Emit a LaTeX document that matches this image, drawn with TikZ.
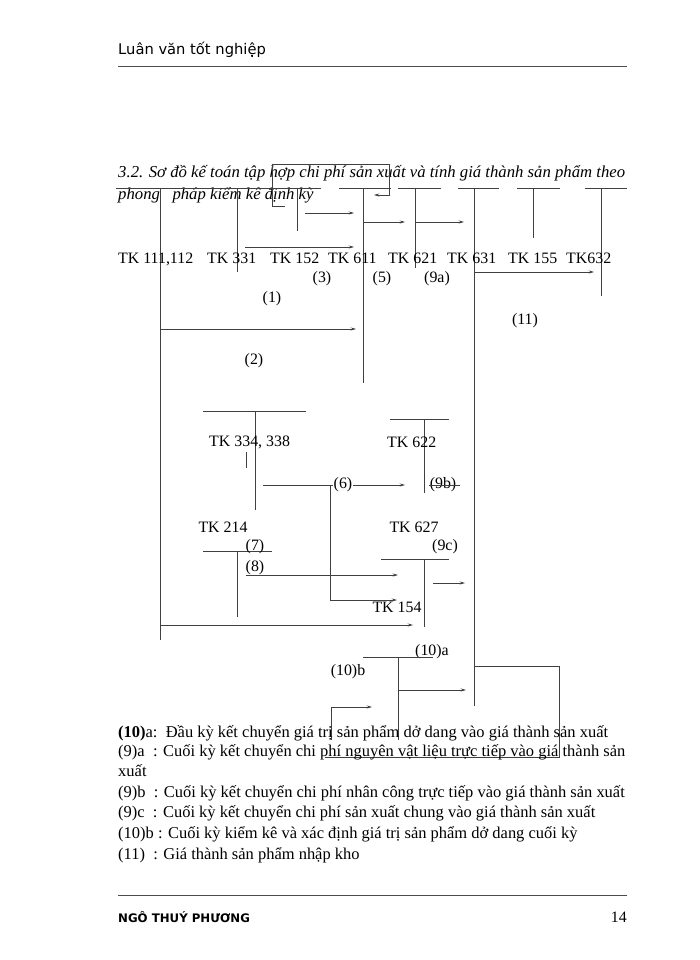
\documentclass[tikz,border=0pt]{standalone}
\usepackage{fontspec}
\setmainfont{Liberation Serif}
\newfontfamily\hdrfont{DejaVu Sans}
\usetikzlibrary{arrows.meta}
\begin{document}
\begin{tikzpicture}[x=0.85pt,y=-0.85pt,
  ln/.style={draw=black!75,line width=0.6pt},
  rule/.style={draw=black!70,line width=0.5pt},
  arr/.style={ln,-{Stealth[length=4.5pt,width=2.6pt]}},
  lbl/.style={inner sep=0pt,font=\fontsize{13.5}{15}\selectfont},
  lgd/.style={inner sep=0pt,anchor=west,font=\fontsize{14}{16}\selectfont}]
\useasboundingbox[fill=white] (0,0) rectangle (700,960);

% header / footer
\node[inner sep=0pt,anchor=west,font=\hdrfont\fontsize{12.5}{14}\selectfont] (hdr) at (118,50) {Luân văn tốt nghiệp};
\coordinate (hl1) at (118,66); \coordinate (hl2) at (627,66);
\draw[rule] (hl1) -- (hl2);
\coordinate (fl1) at (118,895); \coordinate (fl2) at (627,895);
\draw[rule] (fl1) -- (fl2);
\node[inner sep=0pt,anchor=west,font=\hdrfont\bfseries\fontsize{10}{12}\selectfont] (ftr) at (118,917) {NGÔ THUÝ PHƯƠNG};
\node[lbl,anchor=east] (pg) at (627,917) {14};

% title
\node[inner sep=0pt,anchor=west,font=\itshape\fontsize{14.2}{16}\selectfont] (t1) at (118,173) {3.2. Sơ đồ kế toán tập hợp chi phí sản xuất và tính giá thành sản phẩm theo};
\node[inner sep=0pt,anchor=west,font=\itshape\fontsize{14.2}{16}\selectfont] (t2) at (118,195) {phong\ \ \ pháp kiểm kê định kỳ};

% top row of T-accounts
\coordinate (hA1) at (116,188); \coordinate (hA2) at (321,188);
\draw[ln] (hA1) -- (hA2);
\coordinate (h611a) at (339,188); \coordinate (h611b) at (391,188);
\draw[ln] (h611a) -- (h611b);
\coordinate (h621a) at (398,188); \coordinate (h621b) at (441,188);
\draw[ln] (h621a) -- (h621b);
\coordinate (h631a) at (458,188); \coordinate (h631b) at (499,188);
\draw[ln] (h631a) -- (h631b);
\coordinate (h155a) at (517,188); \coordinate (h155b) at (560,188);
\draw[ln] (h155a) -- (h155b);
\coordinate (h632a) at (585,188); \coordinate (h632b) at (627,188);
\draw[ln] (h632a) -- (h632b);

\coordinate (v111t) at (160,188); \coordinate (v111b) at (160,640);
\coordinate (v331t) at (237,188); \coordinate (v331b) at (237,272);
\coordinate (v152t) at (297,188); \coordinate (v152b) at (297,231);
\coordinate (v611t) at (363,188); \coordinate (v611b) at (363,383);
\coordinate (v621t) at (415,188); \coordinate (v621b) at (415,268);
\coordinate (v631t) at (474,188); \coordinate (v631b) at (474,706);
\coordinate (v155t) at (533,188); \coordinate (v155b) at (533,238);
\coordinate (v632t) at (601,188); \coordinate (v632b) at (601,296);
\foreach \a in {111,331,152,611,621,631,155,632} \draw[ln] (v\a t) -- (v\a b);

% loop (3)
\coordinate (lp1) at (285,206); \coordinate (lp2) at (272,206);
\coordinate (lp3) at (272,164); \coordinate (lp4) at (389,164);
\coordinate (lp5) at (389,195); \coordinate (lp6) at (374,195);
\draw[arr] (lp1) -- (lp2) -- (lp3) -- (lp4) -- (lp5) -- (lp6);

% arrows top
\coordinate (a152s) at (305,213); \coordinate (a152e) at (354,213);
\draw[arr] (a152s) -- (a152e);
\coordinate (a611s) at (363,222); \coordinate (a611e) at (405,222);
\draw[arr] (a611s) -- (a611e);
\coordinate (a621s) at (415,222); \coordinate (a621e) at (464,222);
\draw[arr] (a621s) -- (a621e);
\coordinate (a331s) at (245,247); \coordinate (a331e) at (354,247);
\draw[arr] (a331s) -- (a331e);
\coordinate (a631s) at (474,272); \coordinate (a631e) at (594,272);
\draw[arr] (a631s) -- (a631e);
\coordinate (a111s) at (160,329); \coordinate (a111e) at (356,329);
\draw[arr] (a111s) -- (a111e);

% account labels
\node[lbl,anchor=base west] (k111) at (118,263) {TK 111,112};
\node[lbl,anchor=base west] (k331) at (207,263) {TK 331};
\node[lbl,anchor=base west] (k152) at (270,263) {TK 152};
\node[lbl,anchor=base west] (k611) at (328,263) {TK 611};
\node[lbl,anchor=base west] (k621) at (388,263) {TK 621};
\node[lbl,anchor=base west] (k631) at (447,263) {TK 631};
\node[lbl,anchor=base west] (k155) at (508,263) {TK 155};
\node[lbl,anchor=base west] (k632) at (566,263) {TK632};

\node[lbl] (n3) at (322,279) {(3)};
\node[lbl] (n5) at (382,279) {(5)};
\node[lbl] (n9a) at (437,279) {(9a)};
\node[lbl] (n1) at (272,299) {(1)};
\node[lbl] (n11) at (525,321) {(11)};
\node[lbl] (n2) at (254,361) {(2)};

% middle T-accounts
\coordinate (h334a) at (203,411); \coordinate (h334b) at (306,411);
\draw[ln] (h334a) -- (h334b);
\coordinate (v334t) at (255,411); \coordinate (v334b) at (255,510);
\draw[ln] (v334t) -- (v334b);
\node[lbl,anchor=west] (k334) at (209,442) {TK 334, 338};
\coordinate (tk1) at (246,452); \coordinate (tk2) at (246,468);
\draw[ln] (tk1) -- (tk2);

\coordinate (h622a) at (390,419); \coordinate (h622b) at (449,419);
\draw[ln] (h622a) -- (h622b);
\coordinate (v622t) at (424,419); \coordinate (v622b) at (424,493);
\draw[ln] (v622t) -- (v622b);
\node[lbl,anchor=west] (k622) at (387,442) {TK 622};

\coordinate (a6s) at (263,485); \coordinate (a6e) at (405,485);
\draw[arr] (a6s) -- (a6e);
\node[lbl,fill=white,inner sep=0.5pt] (n6) at (343,485) {(6)};
\coordinate (a6c) at (330,485); \coordinate (a6d) at (330,600); \coordinate (a6f) at (397,600);
\draw[arr] (a6c) -- (a6d) -- (a6f);

\node[lbl] (n9b) at (443,485) {(9b)};
\coordinate (s9a) at (429,485); \coordinate (s9b) at (460,485);
\draw[ln] (s9a) -- (s9b);

\node[lbl] (k214) at (223,527) {TK 214};
\node[lbl] (k627) at (414,527) {TK 627};
\coordinate (h214a) at (203,551); \coordinate (h214b) at (272,551);
\draw[ln] (h214a) -- (h214b);
\node[lbl] (n7) at (255,547) {(7)};
\coordinate (v214t) at (237,551); \coordinate (v214b) at (237,617);
\draw[ln] (v214t) -- (v214b);
\node[lbl] (n8) at (255,568) {(8)};
\coordinate (a8s) at (246,575); \coordinate (a8e) at (398,575);
\draw[arr] (a8s) -- (a8e);
\node[lbl] (n9c) at (445,547) {(9c)};

\coordinate (h154a) at (381,559); \coordinate (h154b) at (449,559);
\draw[ln] (h154a) -- (h154b);
\coordinate (v154t) at (424,559); \coordinate (v154b) at (424,627);
\draw[ln] (v154t) -- (v154b);
\coordinate (a9cs) at (433,583); \coordinate (a9ce) at (465,583);
\draw[arr] (a9cs) -- (a9ce);
\node[lbl] (k154) at (397,607) {TK 154};
\coordinate (abs) at (160,625); \coordinate (abe) at (413,625);
\draw[arr] (abs) -- (abe);

% bottom
\node[lbl] (n10a) at (432,652) {(10)a};
\coordinate (h10a) at (363,657); \coordinate (h10b) at (433,657);
\draw[ln] (h10a) -- (h10b);
\coordinate (v10t) at (398,657); \coordinate (v10b) at (398,740);
\draw[ln] (v10t) -- (v10b);
\node[lbl] (n10b) at (348,672) {(10)b};
\coordinate (a10s) at (398,690); \coordinate (a10e) at (466,690);
\draw[arr] (a10s) -- (a10e);
\coordinate (b1) at (331,740); \coordinate (b2) at (331,707); \coordinate (b3) at (372,707);
\draw[arr] (b1) -- (b2) -- (b3);
\coordinate (c1) at (474,666); \coordinate (c2) at (559,666); \coordinate (c3) at (559,757); \coordinate (c4) at (325,757);
\draw[ln] (c1) -- (c2) -- (c3) -- (c4);

% legend
\node[lgd] (g1) at (118,733) {\textbf{(10)}a:\ \ Đầu kỳ kết chuyển giá trị sản phẩm dở dang vào giá thành sản xuất};
\node[lgd] (g2) at (118,752) {\hbox to 431pt{(9)a\ \ : Cuối kỳ kết chuyển chi phí nguyên vật liệu trực tiếp vào giá thành sản}};
\node[lgd] (g3) at (118,771) {xuất};
\node[lgd] (g4) at (118,793) {(9)b\ \ : Cuối kỳ kết chuyển chi phí nhân công trực tiếp vào giá thành sản xuất};
\node[lgd] (g5) at (118,813) {(9)c\ \ : Cuối kỳ kết chuyển chi phí sản xuất chung vào giá thành sản xuất};
\node[lgd] (g6) at (118,834) {(10)b : Cuối kỳ kiểm kê và xác định giá trị sản phẩm dở dang cuối kỳ};
\node[lgd] (g7) at (118,855) {(11)\ \ : Giá thành sản phẩm nhập kho};
\end{tikzpicture}
\end{document}
